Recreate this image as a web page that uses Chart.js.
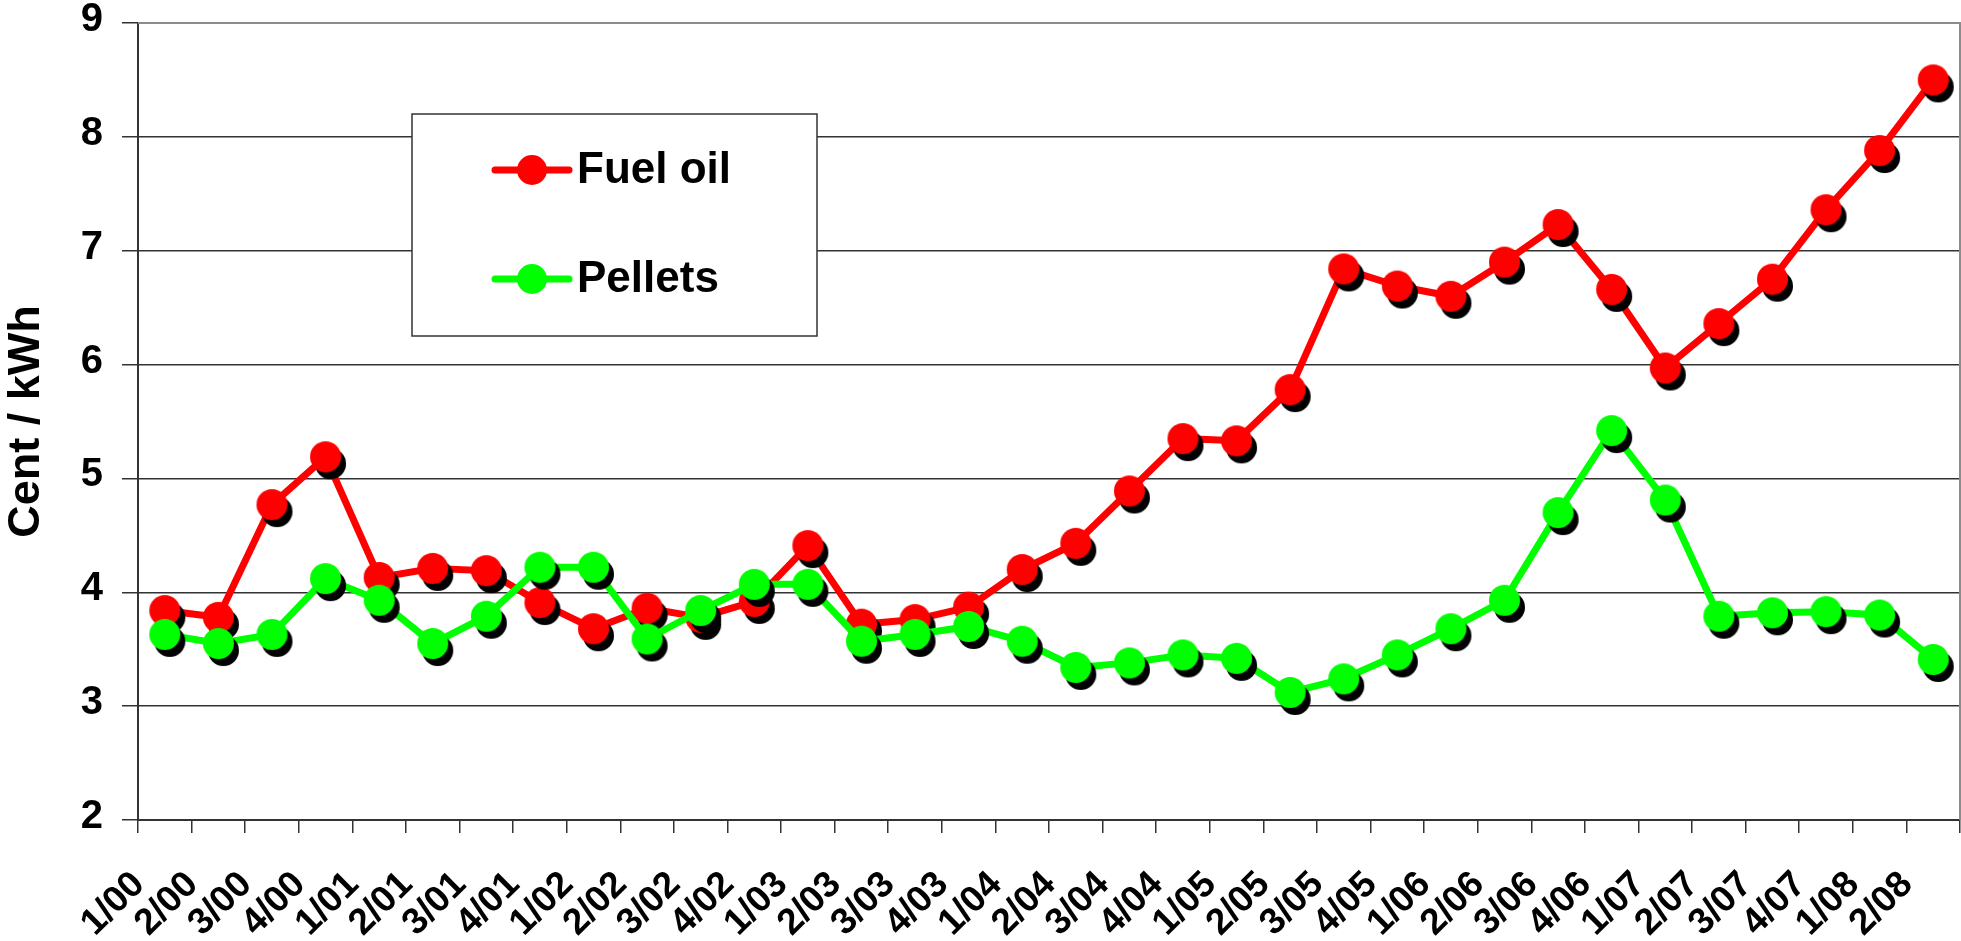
<!DOCTYPE html>
<html>
<head>
<meta charset="utf-8">
<title>Fuel oil / Pellets - Cent per kWh</title>
<script src="https://cdn.jsdelivr.net/npm/chart.js@4.4.1/dist/chart.umd.min.js"></script>
<style>
  html, body { margin: 0; padding: 0; background: #fff; overflow: hidden; }
  #wrap { width: 1961px; height: 941px; position: relative; }
  #chart { display: block; }
</style>
</head>
<body>
<div id="wrap"><canvas id="chart"></canvas></div>
<script>
// quarter labels
var quarters = ['1/00','2/00','3/00','4/00','1/01','2/01','3/01','4/01','1/02','2/02','3/02','4/02',
                '1/03','2/03','3/03','4/03','1/04','2/04','3/04','4/04','1/05','2/05','3/05','4/05',
                '1/06','2/06','3/06','4/06','1/07','2/07','3/07','4/07','1/08','2/08'];

// Cent / kWh
var fuelOil = [3.84, 3.78, 4.77, 5.19, 4.13, 4.21, 4.19, 3.91, 3.68, 3.86, 3.78, 3.92,
               4.41, 3.72, 3.76, 3.87, 4.20, 4.43, 4.89, 5.35, 5.33, 5.78, 6.84, 6.69,
               6.60, 6.90, 7.23, 6.66, 5.97, 6.36, 6.75, 7.36, 7.88, 8.50];
var pellets = [3.63, 3.55, 3.63, 4.12, 3.93, 3.55, 3.79, 4.22, 4.22, 3.59, 3.84, 4.07,
               4.07, 3.57, 3.63, 3.70, 3.57, 3.34, 3.38, 3.45, 3.42, 3.12, 3.24, 3.45,
               3.68, 3.93, 4.70, 5.42, 4.81, 3.79, 3.82, 3.83, 3.80, 3.41];

var yTicks = [2, 3, 4, 5, 6, 7, 8, 9];

var FONT = "'Liberation Sans', Arial, sans-serif";

// marker = coloured dot with a black drop shadow (like the excel look)
function makeMarker(color) {
    var r = 15.5, dx = 5, dy = 7;
    var size = 2 * (r + 8);
    var c = document.createElement('canvas');
    c.width = size;
    c.height = size;
    var g = c.getContext('2d');
    g.fillStyle = '#000';
    g.beginPath();
    g.arc(size / 2 + dx, size / 2 + dy, r, 0, Math.PI * 2);
    g.fill();
    g.fillStyle = color;
    g.beginPath();
    g.arc(size / 2, size / 2, r, 0, Math.PI * 2);
    g.fill();
    return c;
}

// grey frame on top / right of plot
var framePlugin = {
    id: 'frame',
    beforeDatasetsDraw: function(chart) {
        var a = chart.chartArea, ctx = chart.ctx;
        ctx.save();
        ctx.strokeStyle = '#8c8c8c';
        ctx.lineWidth = 2;
        ctx.beginPath();
        ctx.moveTo(a.left, a.top);
        ctx.lineTo(a.right, a.top);
        ctx.lineTo(a.right, a.bottom);
        ctx.stroke();
        ctx.restore();
    }
};

// boxed legend inside the plot
var boxLegend = {
    id: 'boxLegend',
    afterDraw: function(chart) {
        var ctx = chart.ctx;
        var box = { left: 412, top: 114, right: 817, bottom: 336 };
        var rows = [170, 279];
        ctx.save();
        ctx.fillStyle = '#fff';
        ctx.fillRect(box.left, box.top, box.right - box.left, box.bottom - box.top);
        ctx.strokeStyle = '#333';
        ctx.lineWidth = 1.5;
        ctx.strokeRect(box.left, box.top, box.right - box.left, box.bottom - box.top);

        chart.data.datasets.forEach(function(ds, i) {
            var y = rows[i];
            ctx.strokeStyle = ds.borderColor;
            ctx.lineWidth = 7;
            ctx.lineCap = 'round';
            ctx.beginPath();
            ctx.moveTo(495, y);
            ctx.lineTo(569, y);
            ctx.stroke();
            ctx.fillStyle = ds.borderColor;
            ctx.beginPath();
            ctx.arc(532, y, 15, 0, Math.PI * 2);
            ctx.fill();
            ctx.fillStyle = '#000';
            ctx.font = 'bold 44px ' + FONT;
            ctx.textBaseline = 'middle';
            ctx.textAlign = 'left';
            ctx.fillText(ds.label, 577, y + 1);
        });
        ctx.restore();
    }
};

new Chart(document.getElementById('chart'), {
    type: 'line',
    data: {
        labels: quarters,
        datasets: [{
            label: 'Fuel oil',
            data: fuelOil,
            borderColor: '#ff0000',
            backgroundColor: '#ff0000',
            borderWidth: 7,
            pointStyle: makeMarker('#ff0000'),
            pointRadius: 15,
            tension: 0,
            borderJoinStyle: 'round',
            order: 1
        }, {
            label: 'Pellets',
            data: pellets,
            borderColor: '#00ff00',
            backgroundColor: '#00ff00',
            borderWidth: 7,
            pointStyle: makeMarker('#00ff00'),
            pointRadius: 15,
            tension: 0,
            borderJoinStyle: 'round',
            order: 0
        }]
    },
    options: {
        responsive: true,
        maintainAspectRatio: false,
        animation: false,
        layout: { autoPadding: false, padding: { top: 23, right: 1, left: 0, bottom: 0 } },
        plugins: {
            legend: { display: false },
            tooltip: { enabled: false }
        },
        scales: {
            x: {
                type: 'category',
                offset: true,
                grid: { offset: true, drawOnChartArea: false, drawTicks: true, tickLength: 13, color: '#333', lineWidth: 1.5 },
                border: { color: '#333', width: 2 },
                ticks: {
                    autoSkip: false,
                    minRotation: 45,
                    maxRotation: 45,
                    padding: 30,
                    labelOffset: -26,
                    color: '#000',
                    font: { family: FONT, weight: 'bold', size: 37 }
                },
                afterFit: function(s) {
                    s.height = 121;
                    s.paddingLeft = 0;
                    s.paddingRight = 0;
                }
            },
            y: {
                min: 2,
                max: 9,
                afterBuildTicks: function(s) {
                    s.ticks = yTicks.map(function(v) { return { value: v }; });
                },
                grid: { color: '#333', lineWidth: 1.5, tickLength: 16 },
                border: { color: '#333', width: 2 },
                ticks: {
                    padding: 19,
                    labelOffset: -3,
                    color: '#000',
                    font: { family: FONT, weight: 'bold', size: 40, lineHeight: 1 }
                },
                title: {
                    display: true,
                    text: 'Cent / kWh',
                    color: '#000',
                    padding: 0,
                    font: { family: FONT, weight: 'bold', size: 45 }
                },
                afterFit: function(s) {
                    s.width = 138;
                    s.paddingTop = 0;
                    s.paddingBottom = 0;
                }
            }
        }
    },
    plugins: [framePlugin, boxLegend]
});
</script>
</body>
</html>
